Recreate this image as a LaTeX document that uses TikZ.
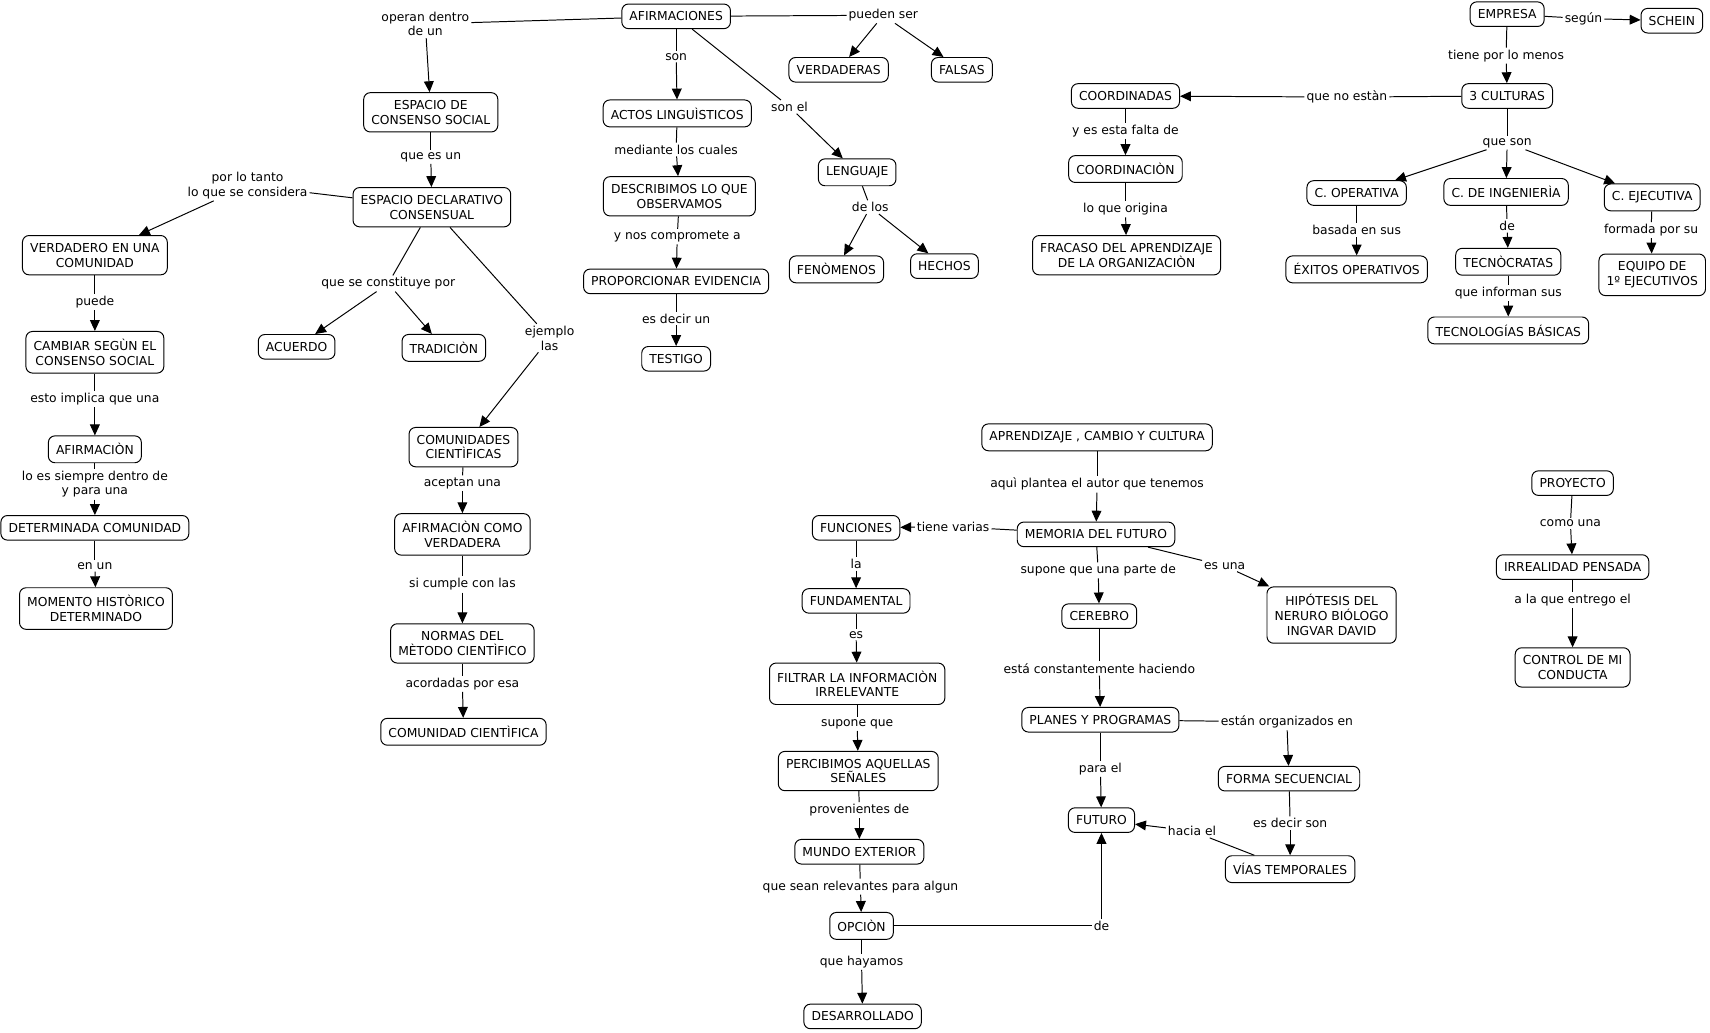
\documentclass[tikz,border=0pt]{standalone}
\usepackage{fontspec}
\setmainfont{DejaVu Sans}
\usetikzlibrary{arrows.meta}
\begin{document}
\begin{tikzpicture}[x=1pt,y=-1pt,line join=round,line width=0.9pt,
    >={Triangle[length=10pt,width=9pt]},
    concept/.style={draw,rounded corners=6pt,align=center,inner xsep=7pt,inner ysep=7pt,
        font=\fontsize{11.3}{13.5}\selectfont},
    link/.style={align=center,inner sep=1.5pt,font=\fontsize{11.3}{13.5}\selectfont}]
    \useasboundingbox (0,0) rectangle (1568,947);
    \node[concept] (afirm) at (620,15) {AFIRMACIONES};
    \node[link] (ldentro) at (390,22) {operan dentro\\de un};
    \node[concept] (espcons) at (395,103) {ESPACIO DE\\CONSENSO SOCIAL};
    \node[link] (lesun) at (395,144) {que es un};
    \node[concept] (espdecl) at (396,190) {ESPACIO DECLARATIVO\\CONSENSUAL};
    \node[link] (lportanto) at (227,170) {por lo tanto\\lo que se considera};
    \node[concept] (verdad) at (87,234) {VERDADERO EN UNA\\COMUNIDAD};
    \node[link] (lpuede) at (87,277) {puede};
    \node[concept] (cambiar) at (87,323) {CAMBIAR SEGÙN EL\\CONSENSO SOCIAL};
    \node[link] (limplica) at (87,366) {esto implica que una};
    \node[concept] (afirmacion) at (87,412) {AFIRMACIÒN};
    \node[link] (lsiempre) at (87,444) {lo es siempre dentro de\\y para una};
    \node[concept] (determ) at (87,484) {DETERMINADA COMUNIDAD};
    \node[link] (lenun) at (87,519) {en un};
    \node[concept] (momento) at (88,558) {MOMENTO HISTÒRICO\\DETERMINADO};
    \node[link] (lconstituye) at (356,260) {que se constituye por};
    \node[concept] (acuerdo) at (272,318) {ACUERDO};
    \node[concept] (tradicion) at (407,319) {TRADICIÒN};
    \node[link] (lejemplo) at (504,310) {ejemplo\\las};
    \node[concept] (comcient) at (425,410) {COMUNIDADES\\CIENTÌFICAS};
    \node[link] (laceptan) at (424,443) {aceptan una};
    \node[concept] (afircomo) at (424,490) {AFIRMACIÒN COMO\\VERDADERA};
    \node[link] (lcumple) at (424,536) {si cumple con las};
    \node[concept] (normas) at (424,590) {NORMAS DEL\\MÈTODO CIENTÌFICO};
    \node[link] (lacordadas) at (424,627) {acordadas por esa};
    \node[concept] (comunidad) at (425,671) {COMUNIDAD CIENTÌFICA};
    \node[link] (lson) at (620,52) {son};
    \node[concept] (actos) at (621,104) {ACTOS LINGUÌSTICOS};
    \node[link] (lmediante) at (620,137) {mediante los cuales};
    \node[concept] (describ) at (623,180) {DESCRIBIMOS LO QUE\\OBSERVAMOS};
    \node[link] (lcompromete) at (621,217) {y nos compromete a};
    \node[concept] (proporc) at (620,258) {PROPORCIONAR EVIDENCIA};
    \node[link] (ldecirun) at (620,292) {es decir un};
    \node[concept] (testigo) at (620,329) {TESTIGO};
    \node[link] (lsonel) at (724,98) {son el};
    \node[concept] (lenguaje) at (786,158) {LENGUAJE};
    \node[link] (ldelos) at (798,190) {de los};
    \node[concept] (fenom) at (767,247) {FENÒMENOS};
    \node[concept] (hechos) at (866,244) {HECHOS};
    \node[link] (lpueden) at (810,14) {pueden ser};
    \node[concept] (verdaderas) at (769,64) {VERDADERAS};
    \node[concept] (falsas) at (882,64) {FALSAS};
    \node[concept] (empresa) at (1382,13) {EMPRESA};
    \node[link] (lsegun) at (1452,17) {según};
    \node[concept] (schein) at (1533,19) {SCHEIN};
    \node[link] (lmenos) at (1381,51) {tiene por lo menos};
    \node[concept] (culturas) at (1382,88) {3 CULTURAS};
    \node[link] (lnoestan) at (1235,89) {que no estàn};
    \node[concept] (coordinadas) at (1032,88) {COORDINADAS};
    \node[link] (lfalta) at (1032,120) {y es esta falta de};
    \node[concept] (coordinacion) at (1032,155) {COORDINACIÒN};
    \node[link] (lorigina) at (1032,192) {lo que origina};
    \node[concept] (fracaso) at (1033,234) {FRACASO DEL APRENDIZAJE\\DE LA ORGANIZACIÒN};
    \node[link] (lqueson) at (1382,131) {que son};
    \node[concept] (coperativa) at (1244,177) {C. OPERATIVA};
    \node[concept] (cingen) at (1381,176) {C. DE INGENIERÌA};
    \node[concept] (cejecutiva) at (1515,181) {C. EJECUTIVA};
    \node[link] (lbasada) at (1244,211) {basada en sus};
    \node[concept] (exitos) at (1244,247) {ÉXITOS OPERATIVOS};
    \node[link] (lde) at (1382,207) {de};
    \node[concept] (tecnocratas) at (1383,240) {TECNÒCRATAS};
    \node[link] (linforman) at (1383,269) {que informan sus};
    \node[concept] (tecnologias) at (1383,303) {TECNOLOGÍAS BÁSICAS};
    \node[link] (lformada) at (1514,211) {formada por su};
    \node[concept] (equipo) at (1515,252) {EQUIPO DE\\1º EJECUTIVOS};
    \node[concept] (aprend) at (1006,401) {APRENDIZAJE , CAMBIO Y CULTURA};
    \node[link] (lplantea) at (1006,444) {aquì plantea el autor que tenemos};
    \node[concept] (memoria) at (1005,490) {MEMORIA DEL FUTURO};
    \node[link] (lvarias) at (874,483) {tiene varias};
    \node[concept] (funciones) at (785,484) {FUNCIONES};
    \node[link] (lla) at (785,517) {la};
    \node[concept] (fundamental) at (785,551) {FUNDAMENTAL};
    \node[link] (les) at (785,582) {es};
    \node[concept] (filtrar) at (786,627) {FILTRAR LA INFORMACIÒN\\IRRELEVANTE};
    \node[link] (lsupone) at (786,664) {supone que};
    \node[concept] (percib) at (787,707) {PERCIBIMOS AQUELLAS\\SEÑALES};
    \node[link] (lprovenientes) at (788,743) {provenientes de};
    \node[concept] (mundo) at (788,781) {MUNDO EXTERIOR};
    \node[link] (lrelevantes) at (789,813) {que sean relevantes para algun};
    \node[concept] (opcion) at (790,849) {OPCIÒN};
    \node[link] (lhayamos) at (790,882) {que hayamos};
    \node[concept] (desarr) at (791,932) {DESARROLLADO};
    \node[link] (ldeop) at (1010,849) {de};
    \node[link] (lparte) at (1007,523) {supone que una parte de};
    \node[concept] (cerebro) at (1008,565) {CEREBRO};
    \node[link] (lesuna) at (1123,519) {es una};
    \node[concept] (hipotesis) at (1221,564) {HIPÓTESIS DEL\\NERURO BIÓLOGO\\INGVAR DAVID};
    \node[link] (lhaciendo) at (1008,613) {está constantemente haciendo};
    \node[concept] (planes) at (1009,660) {PLANES Y PROGRAMAS};
    \node[link] (lorganizados) at (1180,662) {están organizados en};
    \node[concept] (forma) at (1182,714) {FORMA SECUENCIAL};
    \node[link] (ldecirson) at (1183,755) {es decir son};
    \node[concept] (vias) at (1183,797) {VÍAS TEMPORALES};
    \node[link] (lhacia) at (1093,762) {hacia el};
    \node[link] (lparael) at (1009,705) {para el};
    \node[concept] (futuro) at (1010,752) {FUTURO};
    \node[concept] (proyecto) at (1442,443) {PROYECTO};
    \node[link] (lcomouna) at (1440,480) {como una};
    \node[concept] (irreal) at (1442,520) {IRREALIDAD PENSADA};
    \node[link] (lentrego) at (1442,550) {a la que entrego el};
    \node[concept] (control) at (1442,612) {CONTROL DE MI\\CONDUCTA};
    \draw (afirm) -- (ldentro);
    \draw[->] (ldentro) -- (espcons);
    \draw (espcons) -- (lesun);
    \draw[->] (lesun) -- (espdecl);
    \draw (espdecl) -- (lportanto);
    \draw[->] (lportanto) -- (verdad);
    \draw (verdad) -- (lpuede);
    \draw[->] (lpuede) -- (cambiar);
    \draw (cambiar) -- (limplica);
    \draw[->] (limplica) -- (afirmacion);
    \draw (afirmacion) -- (lsiempre);
    \draw[->] (lsiempre) -- (determ);
    \draw (determ) -- (lenun);
    \draw[->] (lenun) -- (momento);
    \draw (espdecl) -- (lconstituye);
    \draw[->] (lconstituye) -- (acuerdo);
    \draw[->] (lconstituye) -- (tradicion);
    \draw (espdecl) -- (lejemplo);
    \draw[->] (lejemplo) -- (comcient);
    \draw (comcient) -- (laceptan);
    \draw[->] (laceptan) -- (afircomo);
    \draw (afircomo) -- (lcumple);
    \draw[->] (lcumple) -- (normas);
    \draw (normas) -- (lacordadas);
    \draw[->] (lacordadas) -- (comunidad);
    \draw (afirm) -- (lson);
    \draw[->] (lson) -- (actos);
    \draw (actos) -- (lmediante);
    \draw[->] (lmediante) -- (describ);
    \draw (describ) -- (lcompromete);
    \draw[->] (lcompromete) -- (proporc);
    \draw (proporc) -- (ldecirun);
    \draw[->] (ldecirun) -- (testigo);
    \draw (afirm) -- (lsonel);
    \draw[->] (lsonel) -- (lenguaje);
    \draw (lenguaje) -- (ldelos);
    \draw[->] (ldelos) -- (fenom);
    \draw[->] (ldelos) -- (hechos);
    \draw (afirm) -- (lpueden);
    \draw[->] (lpueden) -- (verdaderas);
    \draw[->] (lpueden) -- (falsas);
    \draw (empresa) -- (lsegun);
    \draw[->] (lsegun) -- (schein);
    \draw (empresa) -- (lmenos);
    \draw[->] (lmenos) -- (culturas);
    \draw (culturas) -- (lnoestan);
    \draw[->] (lnoestan) -- (coordinadas);
    \draw (coordinadas) -- (lfalta);
    \draw[->] (lfalta) -- (coordinacion);
    \draw (coordinacion) -- (lorigina);
    \draw[->] (lorigina) -- (fracaso);
    \draw (culturas) -- (lqueson);
    \draw[->] (lqueson) -- (coperativa);
    \draw[->] (lqueson) -- (cingen);
    \draw[->] (lqueson) -- (cejecutiva);
    \draw (coperativa) -- (lbasada);
    \draw[->] (lbasada) -- (exitos);
    \draw (cingen) -- (lde);
    \draw[->] (lde) -- (tecnocratas);
    \draw (tecnocratas) -- (linforman);
    \draw[->] (linforman) -- (tecnologias);
    \draw (cejecutiva) -- (lformada);
    \draw[->] (lformada) -- (equipo);
    \draw (aprend) -- (lplantea);
    \draw[->] (lplantea) -- (memoria);
    \draw (memoria) -- (lvarias);
    \draw[->] (lvarias) -- (funciones);
    \draw (funciones) -- (lla);
    \draw[->] (lla) -- (fundamental);
    \draw (fundamental) -- (les);
    \draw[->] (les) -- (filtrar);
    \draw (filtrar) -- (lsupone);
    \draw[->] (lsupone) -- (percib);
    \draw (percib) -- (lprovenientes);
    \draw[->] (lprovenientes) -- (mundo);
    \draw (mundo) -- (lrelevantes);
    \draw[->] (lrelevantes) -- (opcion);
    \draw (opcion) -- (lhayamos);
    \draw[->] (lhayamos) -- (desarr);
    \draw (opcion) -- (ldeop);
    \draw[->] (ldeop) -- (futuro);
    \draw (memoria) -- (lparte);
    \draw[->] (lparte) -- (cerebro);
    \draw (memoria) -- (lesuna);
    \draw[->] (lesuna) -- (hipotesis);
    \draw (cerebro) -- (lhaciendo);
    \draw[->] (lhaciendo) -- (planes);
    \draw (planes) -- (lorganizados);
    \draw[->] (lorganizados) -- (forma);
    \draw (forma) -- (ldecirson);
    \draw[->] (ldecirson) -- (vias);
    \draw (vias) -- (lhacia);
    \draw[->] (lhacia) -- (futuro);
    \draw (planes) -- (lparael);
    \draw[->] (lparael) -- (futuro);
    \draw (proyecto) -- (lcomouna);
    \draw[->] (lcomouna) -- (irreal);
    \draw (irreal) -- (lentrego);
    \draw[->] (lentrego) -- (control);
\end{tikzpicture}
\end{document}
